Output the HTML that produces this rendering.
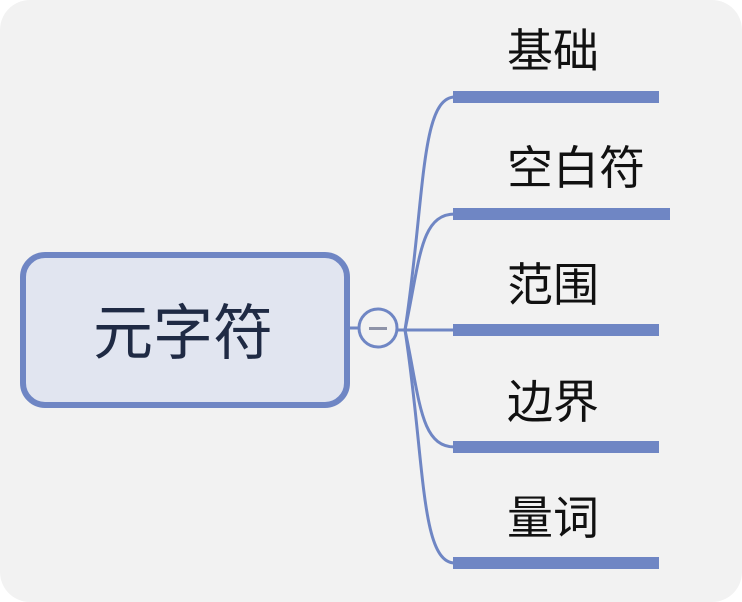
<!DOCTYPE html>
<html><head><meta charset="utf-8"><style>
html,body{margin:0;padding:0;background:#fff;}
body{width:742px;height:602px;overflow:hidden;position:relative;}
.bg{position:absolute;left:0;top:0;width:742px;height:602px;background:#f2f2f2;border-radius:30px;}
svg{position:absolute;left:0;top:0;}
text{font-family:"Liberation Sans","Noto Sans CJK SC",sans-serif;}
</style></head><body>
<div class="bg"></div>
<svg width="742" height="602" viewBox="0 0 742 602">
<g fill="none" stroke="#6f86c4" stroke-width="3">
<path d="M405 330 C 425 200, 420 97, 455 97"/>
<path d="M405 330 C 420 260, 420 214, 455 214"/>
<path d="M398 330 L455 330"/>
<path d="M405 330 C 420 400, 420 447, 455 447"/>
<path d="M405 330 C 425 460, 420 563, 455 563"/>
<path d="M350 328 L358 328"/>
</g>
<g fill="#6f86c4">
<rect x="453" y="91" width="206" height="12"/>
<rect x="453" y="208" width="217" height="12"/>
<rect x="453" y="324" width="206" height="12"/>
<rect x="453" y="441" width="206" height="12"/>
<rect x="453" y="557" width="206" height="12"/>
</g>
<rect x="23" y="255" width="324" height="150" rx="22" fill="#e1e5f0" stroke="#6f86c4" stroke-width="6"/>
<text x="183" y="354" font-size="60" fill="#1f2a44" text-anchor="middle">元字符</text>
<circle cx="378" cy="328" r="19" fill="#f2f2f2" stroke="#6f86c4" stroke-width="3"/>
<rect x="369" y="327" width="18" height="3" fill="#8e93a8"/>
<g font-size="46" fill="#111">
<text x="507" y="67">基础</text>
<text x="507" y="184">空白符</text>
<text x="507" y="301">范围</text>
<text x="507" y="418">边界</text>
<text x="507" y="534">量词</text>
</g>
</svg>
</body></html>
